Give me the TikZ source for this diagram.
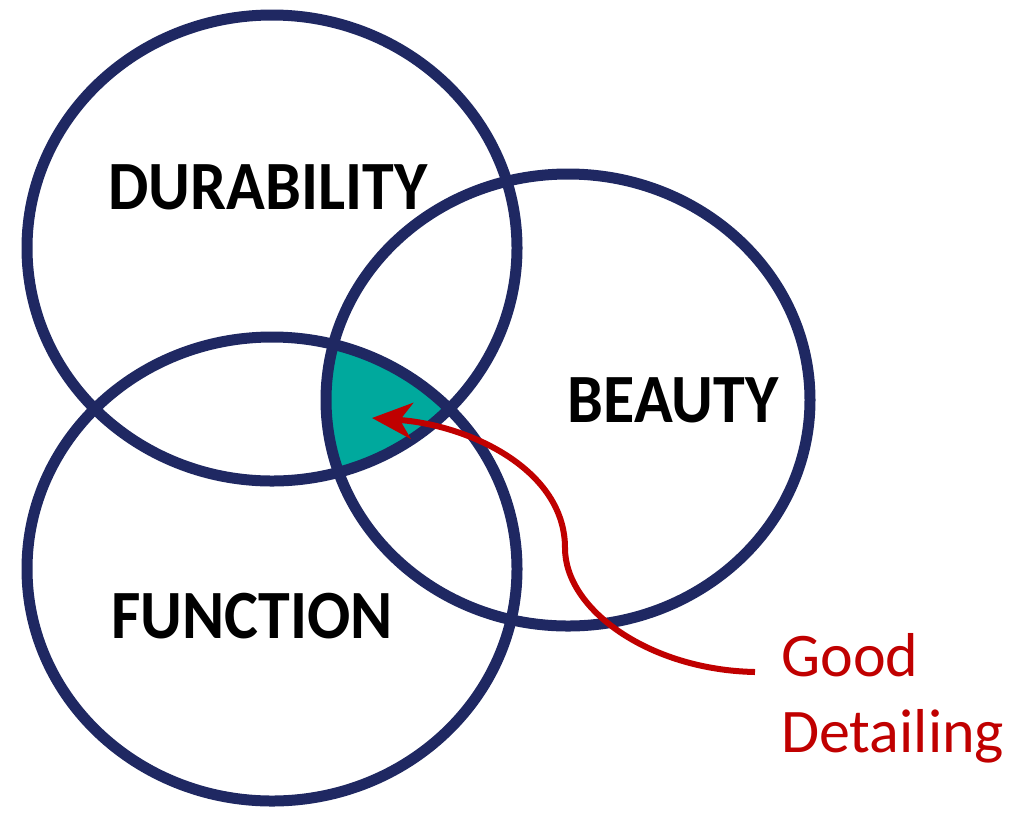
\documentclass[tikz,border=0pt]{standalone}
\usepackage{fontspec}
\setmainfont{Carlito}
\usetikzlibrary{arrows.meta}
\definecolor{navy}{RGB}{31,40,98}
\definecolor{tealfill}{RGB}{0,169,157}
\definecolor{darkred}{RGB}{192,0,0}
\begin{document}
\begin{tikzpicture}[x=1pt,y=-1pt,
  ring/.style={draw=navy,line width=11pt},
  label/.style={font=\bfseries\fontsize{64}{70}\selectfont,text=black,inner sep=0pt,yscale=1.08},
  note/.style={font=\fontsize{62}{76}\selectfont,text=darkred,align=left,inner sep=0pt,anchor=west},
  pointer/.style={draw=darkred,line width=6pt,-{Stealth[length=40pt,width=36pt,inset=12pt]}}]
\useasboundingbox (0,0) rectangle (1024,812);
\begin{scope}
  \clip (272,248) ellipse [x radius=245,y radius=233];
  \clip (568,400) ellipse [x radius=242,y radius=226];
  \fill[tealfill] (272,569) ellipse [x radius=245,y radius=232];
\end{scope}
\draw[ring] (272,248) ellipse [x radius=245,y radius=233];
\draw[ring] (568,400) ellipse [x radius=242,y radius=226];
\draw[ring] (272,569) ellipse [x radius=245,y radius=232];
\node[label] (dur) at (268,187) {DURABILITY};
\node[label] (beauty) at (673,400) {BEAUTY};
\node[label] (func) at (252,616) {FUNCTION};
\node[note] (good) at (781,698) {Good\\Detailing};
\coordinate (start) at (755,672);
\coordinate (tip) at (372,418);
\draw[pointer] (start) .. controls (650,670) and (565,610) .. (565,548)
  .. controls (565,470) and (470,425) .. (tip);
\end{tikzpicture}
\end{document}
